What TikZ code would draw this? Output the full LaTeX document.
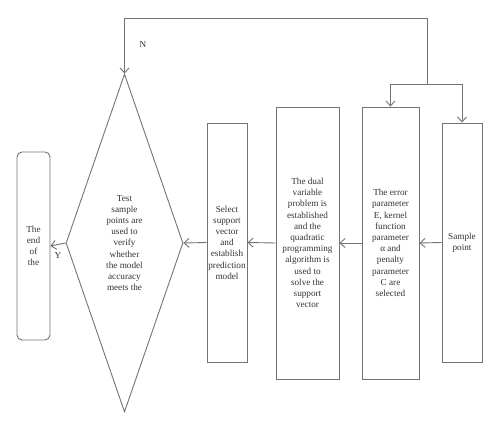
\documentclass[tikz,border=0pt]{standalone}
\usepackage{fontspec}
\setmainfont{Liberation Serif}
\usetikzlibrary{arrows.meta,shapes.geometric}
\tikzset{
  flowline/.style={draw=black!55, line width=0.9pt},
  flowarrow/.style={flowline, -{Straight Barb[length=5pt,width=9pt]}},
  stepbox/.style={draw=black!55, line width=0.9pt, rectangle, inner sep=0pt,
    align=center, text=black!80, font=\fontsize{9.2}{11.2}\selectfont},
}
\begin{document}
\begin{tikzpicture}[x=1pt, y=-1pt]
    \useasboundingbox (0,0) rectangle (500,430);
    % boxes from right to left
    \node[stepbox, minimum width=40pt, minimum height=239pt] (sample) at (462,242.5) {Sample\\point};
    \node[stepbox, minimum width=57pt, minimum height=272pt] (error) at (390.5,243) {The error\\parameter\\E, kernel\\function\\parameter\\α and\\penalty\\parameter\\C are\\selected};
    \node[stepbox, minimum width=63pt, minimum height=272pt] (dual) at (307.5,243) {The dual\\variable\\problem is\\established\\and the\\quadratic\\programming\\algorithm is\\used to\\solve the\\support\\vector};
    \node[stepbox, minimum width=40pt, minimum height=239pt] (select) at (227,242.5) {Select\\support\\vector\\and\\establish\\prediction\\model};
    \node[stepbox, diamond, aspect=0.346, minimum width=117pt, minimum height=338pt] (test) at (124.5,243) {Test\\sample\\points are\\used to\\verify\\whether\\the model\\accuracy\\meets the};
    \node[stepbox, rounded corners=5pt, minimum width=33pt, minimum height=188pt] (end) at (33.5,246) {The\\end\\of\\the};

    % main flow
    \draw[flowarrow] (sample.west) -- (error.east);
    \draw[flowarrow] (error.west) -- (dual.east);
    \draw[flowarrow] (dual.west) -- (select.east);
    \draw[flowarrow] (select.west) -- (test.east);
    \draw[flowarrow] (test.west) -- (end.east) node[midway, below=4pt, text=black!80, font=\fontsize{9.2}{10}\selectfont] (yes) {Y};

    % feedback loop
    \coordinate (split) at (427,84);
    \coordinate (loop) at (427,18);
    \draw[flowarrow] (split) -- (loop) -| (test.north);
    \draw[flowarrow] (split) -| (error.north);
    \draw[flowarrow] (split) -| (sample.north);
    \node[text=black!80, font=\fontsize{9.2}{10}\selectfont] (no) at (143,44) {N};
\end{tikzpicture}
\end{document}
